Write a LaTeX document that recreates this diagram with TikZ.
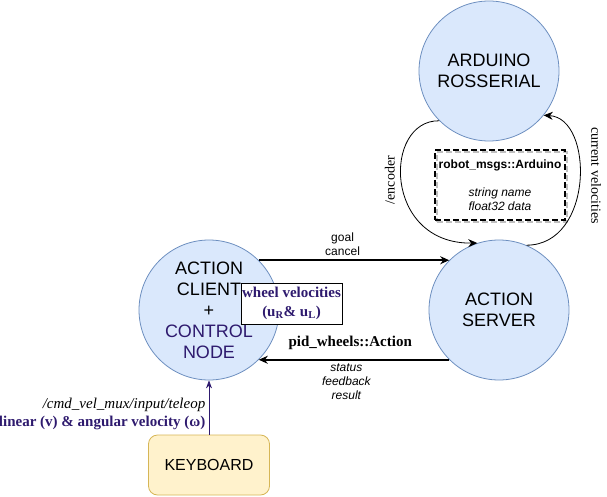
\documentclass[tikz,border=0pt]{standalone}
\usepackage{fontspec}
\setmainfont{Liberation Serif}
\setsansfont{Liberation Sans}
\usetikzlibrary{arrows.meta,shadows}
\definecolor{nodefill}{HTML}{DAE8FC}
\definecolor{nodeline}{HTML}{6C8EBF}
\definecolor{keyfill}{HTML}{FFF2CC}
\definecolor{keyline}{HTML}{D6B656}
\definecolor{ctrlpurple}{HTML}{2E1A6E}
\begin{document}
\begin{tikzpicture}[x=1pt,y=-1pt,line width=0.8pt]
  \tikzstyle{RosNode}=[circle,draw=nodeline,fill=nodefill,minimum size=140pt,inner sep=0pt,
    align=center,font=\sffamily\fontsize{18}{21}\selectfont]
  \tikzstyle{MsgLabel}=[align=center,font=\sffamily\fontsize{12}{14}\selectfont]
  \tikzstyle{TopicLabel}=[font=\fontsize{14}{16}\selectfont]
  \tikzstyle{BoldLabel}=[font=\bfseries\fontsize{15}{19}\selectfont]
  \tikzstyle{EdgeStyle}=[-{Stealth[length=9pt,width=8pt]}]
  \useasboundingbox (0,0) rectangle (607,497);
  % nodes
  \node[RosNode] (Arduino) at (489,71) {ARDUINO\\ROSSERIAL};
  \node[RosNode] (Server) at (499,310) {ACTION\\SERVER};
  \node[RosNode] (Client) at (209,310)
    {ACTION\\CLIENT\\+\\\textcolor{ctrlpurple}{CONTROL}\\\textcolor{ctrlpurple}{NODE}};
  \node[draw=keyline,fill=keyfill,rounded corners=9pt,minimum width=121pt,minimum height=60pt,
    font=\sffamily\fontsize{16}{19}\selectfont] (Keyboard) at (209,465) {KEYBOARD};
  \node[draw,fill=white,minimum width=101pt,minimum height=41pt,inner sep=1pt,align=center,
    text=ctrlpurple,BoldLabel] (Wheels) at (291.5,303.5)
    {wheel velocities\\(u\textsubscript{R}\& u\textsubscript{L})};
  \node[draw,line width=2pt,dash pattern=on 6pt off 3pt,minimum width=130pt,minimum height=70pt,
    drop shadow={fill=none,draw=black!25,opacity=1,line width=2pt,dash pattern=on 6pt off 3pt,
    shadow xshift=2pt,shadow yshift=-2pt},MsgLabel] (MsgType) at (500,185)
    {\textbf{robot\_msgs::Arduino}\\[14pt]\textit{string name}\\\textit{float32 data}};
  % edges
  \draw[EdgeStyle,line width=2pt] (Client.north east)
    -- node[MsgLabel,above,pos=0.44] {goal\\cancel} (Server.north west);
  \draw[EdgeStyle,line width=2pt] (Server.south west)
    -- node[BoldLabel,above=6pt,pos=0.52] {pid\_wheels::Action}
       node[MsgLabel,below,pos=0.54,font=\sffamily\itshape\fontsize{12}{14}\selectfont]
       {status\\feedback\\result} (Client.south east);
  \draw[EdgeStyle] (Arduino.south west) .. controls (383,120) and (383,244) ..
    node[TopicLabel,rotate=90,anchor=south,pos=0.49,yshift=3pt] {/encoder} (Server.108);
  \draw[EdgeStyle] (Server.67) .. controls (594,245) and (594,118) ..
    node[TopicLabel,rotate=-90,anchor=south,pos=0.53,yshift=8pt] {current velocities} (Arduino.-39);
  \draw[-{Stealth[length=8pt,width=6pt]},draw=ctrlpurple] (Keyboard)
    -- node[pos=0.38,anchor=east,align=right,font=\fontsize{15}{18}\selectfont]
    {\textit{/cmd\_vel\_mux/input/teleop}\\\textcolor{ctrlpurple}{\textbf{linear (v) \& angular velocity (ω)}}}
    (Client);
\end{tikzpicture}
\end{document}
